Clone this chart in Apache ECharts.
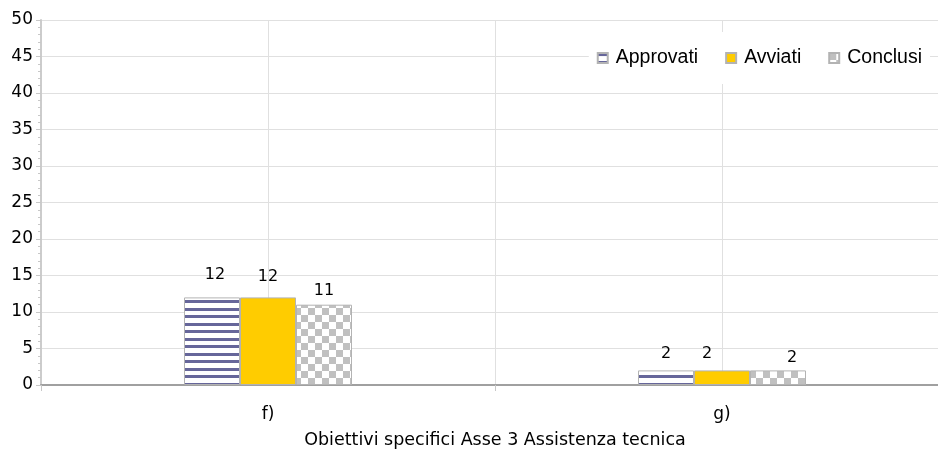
<!DOCTYPE html>
<html>
<head>
<meta charset="utf-8">
<script src="https://cdn.jsdelivr.net/npm/echarts@6/dist/echarts.min.js"></script>
<style>html,body{margin:0;padding:0;background:#fff;overflow:hidden}#c{width:938px;height:453px}</style>
</head>
<body>
<div id="c"></div>
<script>
const categories = ['f)', 'g)'];
const approvati = [12, 2];
const avviati = [12, 2];
const conclusi = [11, 2];
const seriesNames = ['Approvati', 'Avviati', 'Conclusi'];
const xAxisTitle = 'Obiettivi specifici Asse 3 Assistenza tecnica';
const yMin = 0, yMax = 50, yStep = 5;

function stripePattern() {
  const c = document.createElement('canvas');
  c.width = 8; c.height = 15;
  const g = c.getContext('2d');
  g.fillStyle = '#ffffff'; g.fillRect(0, 0, 8, 15);
  g.fillStyle = '#66669a';
  g.fillRect(0, 0, 8, 3);
  g.fillRect(0, 8, 8, 3);
  return { image: c, repeat: 'repeat' };
}
function checkerPattern() {
  const s = 7;
  const c = document.createElement('canvas');
  c.width = s * 2; c.height = s * 2;
  const g = c.getContext('2d');
  g.fillStyle = '#ffffff'; g.fillRect(0, 0, s * 2, s * 2);
  g.fillStyle = '#c0c0c0';
  g.fillRect(0, 0, s, s);
  g.fillRect(s, s, s, s);
  return { image: c, repeat: 'repeat' };
}

const fills = [stripePattern(), '#ffcc00', checkerPattern()];
const values = [approvati, avviati, conclusi];
const labelDist = [11, 9, 5];
// per-series, per-category label nudges [dx, dy]
const labelShift = [[[3, -4], [0, 2]], [[0, -4], [-15, 0]], [[0, -1], [14, 0]]];

const chart = echarts.init(document.getElementById('c'), null, { renderer: 'canvas' });
const series = seriesNames.map((name, si) => ({
  name: name,
  type: 'bar',
  xAxisIndex: 0,
  barWidth: 56,
  barGap: '0%',
  itemStyle: { color: fills[si], borderColor: '#b3b3b3', borderWidth: 1 },
  label: {
    show: true, position: 'top', distance: labelDist[si],
    fontFamily: 'DejaVu Sans', fontSize: 16, color: '#000'
  },
  data: values[si].map((v, ci) => ({
    value: v,
    label: { offset: labelShift[si][ci] }
  }))
}));

chart.setOption({
  animation: false,
  backgroundColor: '#fff',
  grid: { left: 41, top: 20, width: 908, bottom: 68, containLabel: false, outerBoundsMode: 'none' },
  legend: {
    data: seriesNames,
    right: 8, top: 32,
    padding: [16, 8],
    backgroundColor: '#fff',
    itemWidth: 10, itemHeight: 10, itemGap: 27,
    icon: 'rect',
    textStyle: { fontFamily: 'Liberation Sans', fontSize: 19.5, color: '#000', padding: [0, 0, 0, 3] }
  },
  xAxis: [
    {
      type: 'category',
      data: categories,
      boundaryGap: true,
      axisLine: { lineStyle: { color: '#a0a0a0', width: 2 } },
      axisTick: { show: true, length: 6, lineStyle: { color: '#c8c8c8' } },
      axisLabel: { fontFamily: 'DejaVu Sans', fontSize: 17, color: '#000', margin: 21 },
      splitLine: { show: false },
      name: xAxisTitle,
      nameLocation: 'middle',
      nameGap: 46,
      nameTextStyle: { fontFamily: 'DejaVu Sans', fontSize: 17.5, color: '#000' }
    },
    {
      type: 'category',
      data: categories.flatMap(c => [c + 'a', c + 'b']),
      boundaryGap: true,
      position: 'bottom',
      axisLine: { show: false },
      axisTick: { show: false },
      axisLabel: { show: false },
      splitLine: { show: true, lineStyle: { color: '#e0e0e0', width: 1 } }
    }
  ],
  yAxis: {
    type: 'value',
    min: yMin, max: yMax, interval: yStep,
    axisLine: { show: true, lineStyle: { color: '#cccccc', width: 2 } },
    axisTick: { show: true, length: 5, lineStyle: { color: '#c8c8c8' } },
    minorTick: { show: true, splitNumber: 5, length: 3, lineStyle: { color: '#c8c8c8' } },
    axisLabel: { fontFamily: 'DejaVu Sans', fontSize: 17, color: '#000', margin: 8 },
    splitLine: { show: true, lineStyle: { color: '#e0e0e0', width: 1 } }
  },
  series: series
});
</script>
</body>
</html>
